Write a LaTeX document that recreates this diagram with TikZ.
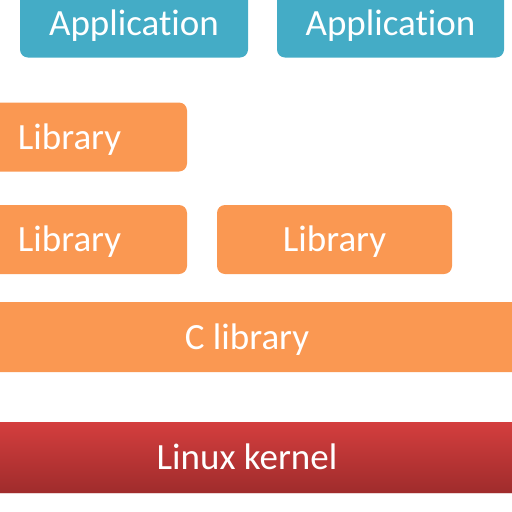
\documentclass[tikz,border=0pt]{standalone}
\usepackage{fontspec}
\setmainfont[Ligatures={NoCommon}]{Carlito}
\usetikzlibrary{shadings}

\definecolor{appblue}{RGB}{68,172,198}
\definecolor{liborange}{RGB}{250,152,82}
\definecolor{kerneltop}{RGB}{212,62,62}
\definecolor{kernelbot}{RGB}{160,44,44}

\begin{document}
\begin{tikzpicture}%
            [x = 1pt, y = -1pt,
             box/.style = {rounded corners=8pt, text=white, inner sep=0pt,
                           font=\fontsize{37}{44}\selectfont,
                           text height=24pt, text depth=0pt, minimum height=69pt},
             app/.style = {box, fill=appblue},
             lib/.style = {box, fill=liborange, minimum width=235pt}]
            \useasboundingbox (0,0) rectangle (512,512);
            \clip (0,0) rectangle (512,512);

            \node [app, minimum width=228pt] (app1) at (134,23) {Application};
            \node [app, minimum width=227pt] (app2) at (390.5,23) {Application};

            \node [lib] (lib1) at (69.5,137) {Library};
            \node [lib] (lib2) at (69.5,239.5) {Library};
            \node [lib] (lib3) at (334.5,239.5) {Library};

            \node [lib, minimum width=620pt, minimum height=70pt] (clib) at (247,337) {C library};

            \node [box, rounded corners=0pt, minimum width=620pt, minimum height=70pt,
                   top color=kerneltop, bottom color=kernelbot] (kernel) at (247,457) {Linux kernel};
            \draw [kernelbot!20, line width = 1.2pt] ([yshift=-1.5pt]kernel.south west) -- ([yshift=-1.5pt]kernel.south east);
        \end{tikzpicture}
\end{document}
